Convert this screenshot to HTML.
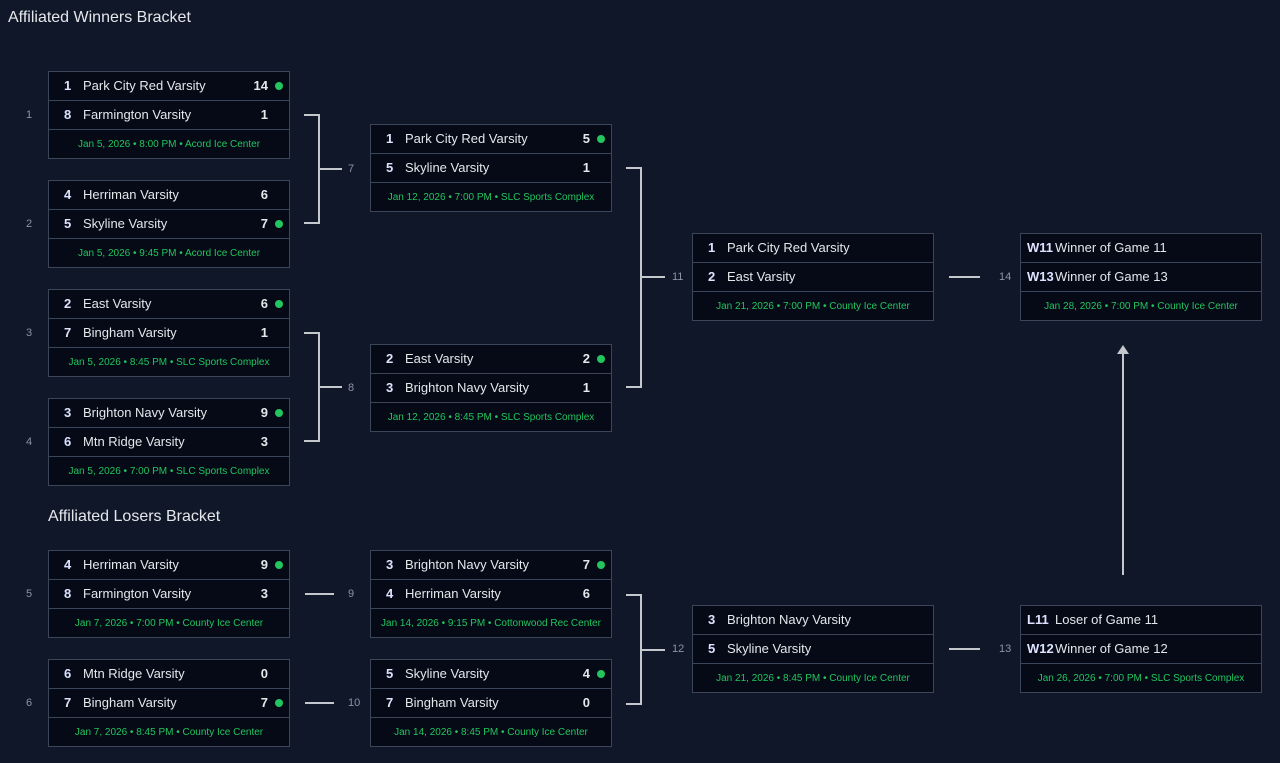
<!DOCTYPE html>
<html><head><meta charset="utf-8"><style>
*{box-sizing:border-box;margin:0;padding:0}
body{width:1280px;height:763px;background:#0f1729;font-family:"Liberation Sans",sans-serif;position:relative;overflow:hidden;color:#e5e7eb}
.t{position:absolute;font-size:16px;color:#e5e7eb}
.b{position:absolute;width:242px;height:88px;border:1px solid #3b4658;background:#050a16}
.r{height:29px;border-bottom:1px solid #3b4658;position:relative;font-size:13px;line-height:28px}
.s{position:absolute;left:15px;font-weight:bold;color:#dde3ff}
.n{position:absolute;left:34px}
.sc{position:absolute;right:21px;font-weight:bold}
.d{position:absolute;right:6px;top:10px;width:8px;height:8px;border-radius:50%;background:#22c55e}
.dt{height:28px;line-height:29px;text-align:center;font-size:10px;color:#22c55e}
.w{position:absolute;left:6px;font-weight:bold;color:#dde3ff}
.g{position:absolute;font-size:11px;color:#8b94a5}
.h{position:absolute;height:2px;background:#c4c7cc}
.v{position:absolute;width:2px;background:#c4c7cc}
</style></head><body>
<div class="t" style="left:8px;top:9px">Affiliated Winners Bracket</div>
<div class="t" style="left:48px;top:508px">Affiliated Losers Bracket</div>

<div class="b" style="left:48px;top:71px"><div class="r"><span class="s">1</span><span class="n">Park City Red Varsity</span><span class="sc">14</span><span class="d"></span></div><div class="r"><span class="s">8</span><span class="n">Farmington Varsity</span><span class="sc">1</span></div><div class="dt">Jan 5, 2026 • 8:00 PM • Acord Ice Center</div></div>
<div class="b" style="left:48px;top:180px"><div class="r"><span class="s">4</span><span class="n">Herriman Varsity</span><span class="sc">6</span></div><div class="r"><span class="s">5</span><span class="n">Skyline Varsity</span><span class="sc">7</span><span class="d"></span></div><div class="dt">Jan 5, 2026 • 9:45 PM • Acord Ice Center</div></div>
<div class="b" style="left:48px;top:289px"><div class="r"><span class="s">2</span><span class="n">East Varsity</span><span class="sc">6</span><span class="d"></span></div><div class="r"><span class="s">7</span><span class="n">Bingham Varsity</span><span class="sc">1</span></div><div class="dt">Jan 5, 2026 • 8:45 PM • SLC Sports Complex</div></div>
<div class="b" style="left:48px;top:398px"><div class="r"><span class="s">3</span><span class="n">Brighton Navy Varsity</span><span class="sc">9</span><span class="d"></span></div><div class="r"><span class="s">6</span><span class="n">Mtn Ridge Varsity</span><span class="sc">3</span></div><div class="dt">Jan 5, 2026 • 7:00 PM • SLC Sports Complex</div></div>
<div class="b" style="left:48px;top:550px"><div class="r"><span class="s">4</span><span class="n">Herriman Varsity</span><span class="sc">9</span><span class="d"></span></div><div class="r"><span class="s">8</span><span class="n">Farmington Varsity</span><span class="sc">3</span></div><div class="dt">Jan 7, 2026 • 7:00 PM • County Ice Center</div></div>
<div class="b" style="left:48px;top:659px"><div class="r"><span class="s">6</span><span class="n">Mtn Ridge Varsity</span><span class="sc">0</span></div><div class="r"><span class="s">7</span><span class="n">Bingham Varsity</span><span class="sc">7</span><span class="d"></span></div><div class="dt">Jan 7, 2026 • 8:45 PM • County Ice Center</div></div>

<div class="b" style="left:370px;top:124px"><div class="r"><span class="s">1</span><span class="n">Park City Red Varsity</span><span class="sc">5</span><span class="d"></span></div><div class="r"><span class="s">5</span><span class="n">Skyline Varsity</span><span class="sc">1</span></div><div class="dt">Jan 12, 2026 • 7:00 PM • SLC Sports Complex</div></div>
<div class="b" style="left:370px;top:344px"><div class="r"><span class="s">2</span><span class="n">East Varsity</span><span class="sc">2</span><span class="d"></span></div><div class="r"><span class="s">3</span><span class="n">Brighton Navy Varsity</span><span class="sc">1</span></div><div class="dt">Jan 12, 2026 • 8:45 PM • SLC Sports Complex</div></div>
<div class="b" style="left:370px;top:550px"><div class="r"><span class="s">3</span><span class="n">Brighton Navy Varsity</span><span class="sc">7</span><span class="d"></span></div><div class="r"><span class="s">4</span><span class="n">Herriman Varsity</span><span class="sc">6</span></div><div class="dt">Jan 14, 2026 • 9:15 PM • Cottonwood Rec Center</div></div>
<div class="b" style="left:370px;top:659px"><div class="r"><span class="s">5</span><span class="n">Skyline Varsity</span><span class="sc">4</span><span class="d"></span></div><div class="r"><span class="s">7</span><span class="n">Bingham Varsity</span><span class="sc">0</span></div><div class="dt">Jan 14, 2026 • 8:45 PM • County Ice Center</div></div>

<div class="b" style="left:692px;top:233px"><div class="r"><span class="s">1</span><span class="n">Park City Red Varsity</span></div><div class="r"><span class="s">2</span><span class="n">East Varsity</span></div><div class="dt">Jan 21, 2026 • 7:00 PM • County Ice Center</div></div>
<div class="b" style="left:692px;top:605px"><div class="r"><span class="s">3</span><span class="n">Brighton Navy Varsity</span></div><div class="r"><span class="s">5</span><span class="n">Skyline Varsity</span></div><div class="dt">Jan 21, 2026 • 8:45 PM • County Ice Center</div></div>

<div class="b" style="left:1020px;top:233px"><div class="r"><span class="w">W11</span><span class="n">Winner of Game 11</span></div><div class="r"><span class="w">W13</span><span class="n">Winner of Game 13</span></div><div class="dt">Jan 28, 2026 • 7:00 PM • County Ice Center</div></div>
<div class="b" style="left:1020px;top:605px"><div class="r"><span class="w">L11</span><span class="n">Loser of Game 11</span></div><div class="r"><span class="w">W12</span><span class="n">Winner of Game 12</span></div><div class="dt">Jan 26, 2026 • 7:00 PM • SLC Sports Complex</div></div>

<div class="g" style="left:26px;top:109px">1</div>
<div class="g" style="left:26px;top:218px">2</div>
<div class="g" style="left:26px;top:327px">3</div>
<div class="g" style="left:26px;top:436px">4</div>
<div class="g" style="left:26px;top:588px">5</div>
<div class="g" style="left:26px;top:697px">6</div>

<div class="h" style="left:304px;top:114px;width:15px"></div>
<div class="h" style="left:304px;top:222px;width:15px"></div>
<div class="v" style="left:318px;top:114px;height:110px"></div>
<div class="h" style="left:318px;top:168px;width:24px"></div>
<div class="g" style="left:348px;top:163px">7</div>
<div class="h" style="left:304px;top:332px;width:15px"></div>
<div class="h" style="left:304px;top:440px;width:15px"></div>
<div class="v" style="left:318px;top:332px;height:110px"></div>
<div class="h" style="left:318px;top:386px;width:24px"></div>
<div class="g" style="left:348px;top:382px">8</div>
<div class="h" style="left:626px;top:167px;width:15px"></div>
<div class="h" style="left:626px;top:386px;width:15px"></div>
<div class="v" style="left:640px;top:167px;height:221px"></div>
<div class="h" style="left:640px;top:276px;width:25px"></div>
<div class="g" style="left:672px;top:271px">11</div>
<div class="h" style="left:949px;top:276px;width:31px"></div>
<div class="g" style="left:999px;top:271px">14</div>
<div class="h" style="left:305px;top:593px;width:29px"></div>
<div class="g" style="left:348px;top:588px">9</div>
<div class="h" style="left:305px;top:702px;width:29px"></div>
<div class="g" style="left:348px;top:697px">10</div>
<div class="h" style="left:626px;top:594px;width:15px"></div>
<div class="h" style="left:626px;top:703px;width:15px"></div>
<div class="v" style="left:640px;top:594px;height:111px"></div>
<div class="h" style="left:640px;top:649px;width:25px"></div>
<div class="g" style="left:672px;top:643px">12</div>
<div class="h" style="left:949px;top:648px;width:31px"></div>
<div class="g" style="left:999px;top:643px">13</div>
<div class="v" style="left:1122px;top:352px;height:223px"></div>
<div style="position:absolute;left:1117px;top:345px;width:0;height:0;border-left:6px solid transparent;border-right:6px solid transparent;border-bottom:9px solid #c4c7cc"></div>
</body></html>
